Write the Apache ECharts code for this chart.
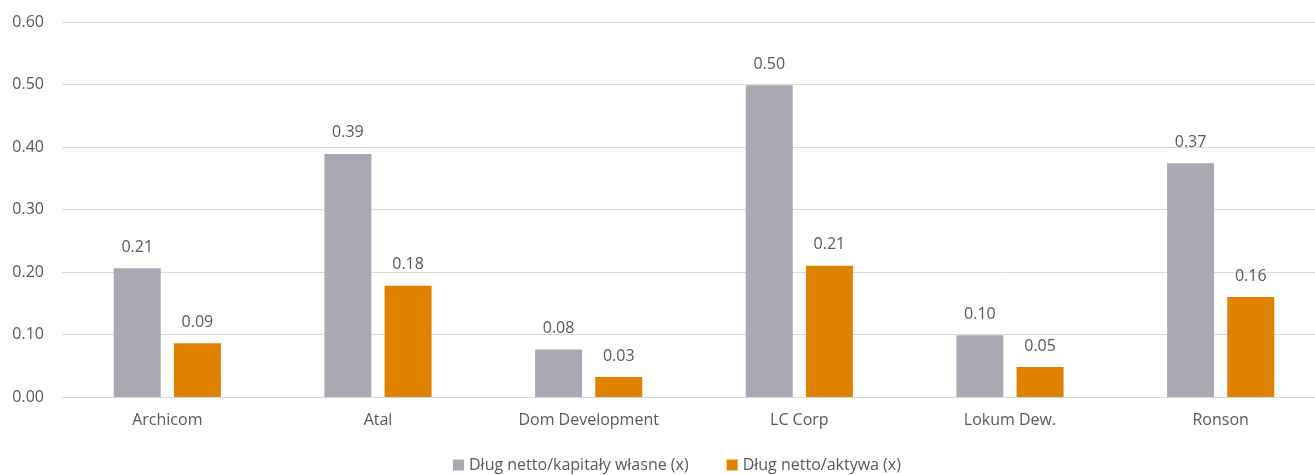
<!DOCTYPE html>
<html>
<head>
<meta charset="utf-8">
<script src="https://cdn.jsdelivr.net/npm/echarts@6/dist/echarts.min.js"></script>
<style>
  html, body { margin: 0; padding: 0; background: #fff; }
  #chart { width: 1315px; height: 475px; }
</style>
</head>
<body>
<div id="chart"></div>
<script>
// Developers compared by leverage ratios
const categories = ['Archicom', 'Atal', 'Dom Development', 'LC Corp', 'Lokum Dew.', 'Ronson'];
const debtToEquity = [0.206, 0.389, 0.076, 0.499, 0.099, 0.374];
const debtToAssets = [0.086, 0.178, 0.032, 0.210, 0.048, 0.160];
const seriesNames = ['Dług netto/kapitały własne (x)', 'Dług netto/aktywa (x)'];
const yTicks = { min: 0, max: 0.6, interval: 0.1 };

const textColor = '#595959';
const fontFamily = '"Open Sans", sans-serif';
const fontSize = 16;

const chart = echarts.init(document.getElementById('chart'), null, { renderer: 'canvas' });

const labelOpt = {
  show: true,
  position: 'top',
  distance: 13,
  color: textColor,
  fontFamily: fontFamily,
  fontSize: fontSize,
  formatter: p => p.value.toFixed(2)
};

chart.setOption({
  animation: false,
  // the plot runs slightly past the right edge of the canvas
  grid: {
    left: 62, width: 1264, top: 22, height: 375,
    containLabel: false,
    outerBoundsMode: 'none'
  },
  legend: {
    top: 452,
    left: 448,
    itemWidth: 11,
    itemHeight: 11,
    itemGap: 38,
    icon: 'rect',
    textStyle: { color: textColor, fontFamily: fontFamily, fontSize: fontSize },
    data: seriesNames
  },
  xAxis: {
    type: 'category',
    data: categories,
    axisLine: { show: true, lineStyle: { color: '#d9d9d9', width: 1 } },
    axisTick: { show: false },
    axisLabel: { color: textColor, fontFamily: fontFamily, fontSize: fontSize, margin: 15 }
  },
  yAxis: {
    type: 'value',
    min: yTicks.min,
    max: yTicks.max,
    interval: yTicks.interval,
    axisLine: { show: false },
    axisTick: { show: false },
    splitLine: { lineStyle: { color: '#d9d9d9', width: 1 } },
    axisLabel: {
      color: textColor,
      fontFamily: fontFamily,
      fontSize: fontSize,
      margin: 18,
      formatter: v => v.toFixed(2)
    }
  },
  series: [
    {
      name: seriesNames[0],
      type: 'bar',
      data: debtToEquity,
      barWidth: 47,
      barGap: '28%',
      itemStyle: { color: '#a9a9b3' },
      label: labelOpt
    },
    {
      name: seriesNames[1],
      type: 'bar',
      data: debtToAssets,
      barWidth: 47,
      barGap: '28%',
      itemStyle: { color: '#df8200' },
      label: labelOpt
    }
  ]
});
</script>
</body>
</html>
